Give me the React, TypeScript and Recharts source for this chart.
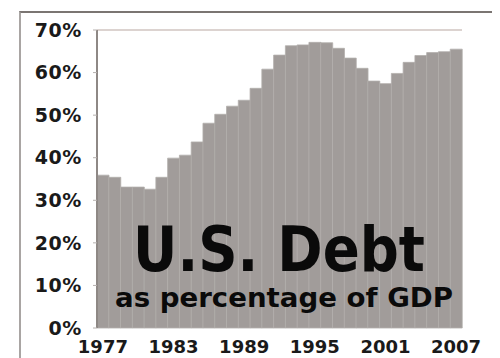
import { BarChart, Bar, XAxis, YAxis, ReferenceLine } from 'recharts'

const years = [
  '1977', '1978', '1979', '1980', '1981', '1982', '1983', '1984', '1985', '1986',
  '1987', '1988', '1989', '1990', '1991', '1992', '1993', '1994', '1995', '1996',
  '1997', '1998', '1999', '2000', '2001', '2002', '2003', '2004', '2005', '2006', '2007',
]

const debtPct = [
  35.9, 35.4, 33.1, 33.1, 32.6, 35.4, 39.9, 40.6, 43.7, 48.1,
  50.2, 52.1, 53.5, 56.3, 60.8, 64.1, 66.3, 66.5, 67.1, 67.0,
  65.7, 63.4, 61.0, 58.0, 57.4, 59.8, 62.4, 64.0, 64.7, 64.9, 65.5,
]

const yTicks = [0, 10, 20, 30, 40, 50, 60, 70]

const title = 'U.S. Debt'
const subtitle = 'as percentage of GDP'

const data = years.map((year, i) => ({ year, value: debtPct[i] }))

const xFont = { fill: '#1a1a1a', fontSize: 18, fontWeight: 700, fontFamily: 'DejaVu Sans' }
const yFont = { fill: '#1a1a1a', fontSize: 19, fontWeight: 700, fontFamily: 'DejaVu Sans', letterSpacing: 0.6 }

export default function App() {
  return (
    <div style={{ position: 'relative', width: 500, height: 358, background: '#fff', overflow: 'hidden' }}>
      <style>{'body{margin:0}'}</style>
      {/* outer frame */}
      <div
        style={{
          position: 'absolute',
          left: 19,
          top: 11,
          width: 471,
          height: 360,
          borderTop: '2px solid #7b7572',
          borderLeft: '2px solid #a9a5a3',
        }}
      />
      <div style={{ position: 'absolute', left: 0, top: 0 }}>
        <BarChart
          width={500}
          height={358}
          data={data}
          margin={{ top: 30, right: 38, left: 0, bottom: 0 }}
          barCategoryGap={0}
        >
          <XAxis
            dataKey="year"
            interval={5}
            axisLine={false}
            tickLine={false}
            tickSize={0}
            tickMargin={12}
            height={30}
            tick={xFont}
          />
          <YAxis
            domain={[0, 70]}
            ticks={yTicks}
            width={97}
            tickFormatter={(v) => `${v}%`}
            axisLine={{ stroke: '#8e8885', strokeWidth: 2 }}
            tickLine={{ stroke: '#b5b0ae' }}
            tickSize={4}
            tickMargin={11}
            tick={yFont}
          />
          <YAxis
            yAxisId="r"
            orientation="right"
            domain={[0, 70]}
            width={0}
            tick={false}
            tickLine={false}
            axisLine={{ stroke: '#dcd3d0', strokeWidth: 1.5 }}
          />
          <ReferenceLine y={70} stroke="#dcd3d0" strokeWidth={2} />
          <Bar
            dataKey="value"
            fill="#a19c9a"
            stroke="#b3aeac"
            strokeWidth={0.8}
            isAnimationActive={false}
          />
        </BarChart>
      </div>
      <svg
        width={500}
        height={358}
        style={{ position: 'absolute', left: 0, top: 0, pointerEvents: 'none' }}
      >
        <text
          x={133}
          y={271}
          fontFamily="DejaVu Sans"
          fontWeight={700}
          fontSize={63}
          fill="#0a0a0a"
          textLength={292}
          lengthAdjust="spacingAndGlyphs"
        >
          {title}
        </text>
        <text
          x={115}
          y={307}
          fontFamily="DejaVu Sans"
          fontWeight={700}
          fontSize={27}
          fill="#0a0a0a"
          textLength={338}
          lengthAdjust="spacingAndGlyphs"
        >
          {subtitle}
        </text>
      </svg>
    </div>
  )
}
